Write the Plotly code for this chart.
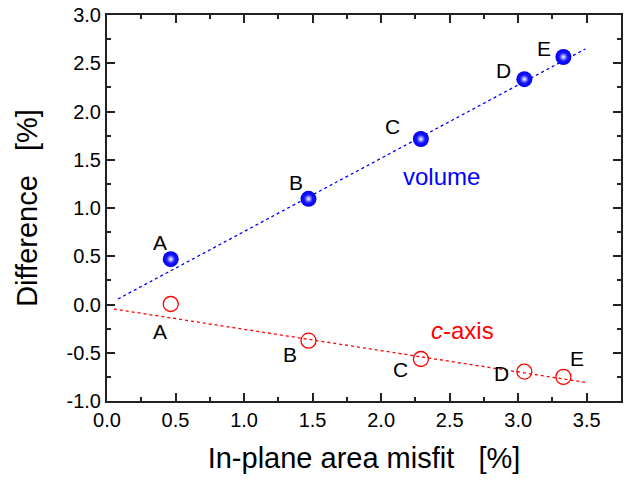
import plotly.graph_objects as go

# Data
labels = ["A", "B", "C", "D", "E"]
misfit = [0.465, 1.47, 2.29, 3.045, 3.33]
volume = [0.47, 1.095, 1.715, 2.335, 2.565]
c_axis = [0.005, -0.375, -0.565, -0.695, -0.75]

# Linear-fit guide lines (end points)
vol_fit_x = [0.08, 3.49]
vol_fit_y = [0.057, 2.648]
c_fit_x = [0.05, 3.49]
c_fit_y = [-0.047, -0.807]

# Label positions (data coordinates)
vol_lab_x = [0.385, 1.378, 2.086, 2.892, 3.19]
vol_lab_y = [0.64, 1.265, 1.846, 2.426, 2.648]
c_lab_x = [0.385, 1.336, 2.141, 2.88, 3.43]
c_lab_y = [-0.28, -0.52, -0.676, -0.717, -0.56]

# Tick labels
x_tick_vals = [0.0, 0.5, 1.0, 1.5, 2.0, 2.5, 3.0, 3.5]
x_tick_text = ["0.0", "0.5", "1.0", "1.5", "2.0", "2.5", "3.0", "3.5"]
y_tick_vals = [-1.0, -0.5, 0.0, 0.5, 1.0, 1.5, 2.0, 2.5, 3.0]
y_tick_text = ["-1.0", "-0.5", "0.0", "0.5", "1.0", "1.5", "2.0", "2.5", "3.0"]

FONT = "Liberation Sans, Arial, sans-serif"

fig = go.Figure()

fig.add_trace(go.Scatter(x=vol_fit_x, y=vol_fit_y, mode="lines",
                         line=dict(color="#0000ff", width=1.3, dash="dot"),
                         showlegend=False, hoverinfo="skip"))
fig.add_trace(go.Scatter(x=c_fit_x, y=c_fit_y, mode="lines",
                         line=dict(color="#ff0000", width=1.3, dash="dot"),
                         showlegend=False, hoverinfo="skip"))

# volume: shaded blue spheres
fig.add_trace(go.Scatter(x=misfit, y=volume, mode="markers",
                         marker=dict(size=16, color="#0000f0", line=dict(width=0),
                                     gradient=dict(type="radial", color="#3030ff")),
                         showlegend=False))
fig.add_trace(go.Scatter(x=misfit, y=volume, mode="markers",
                         marker=dict(size=8, color="rgba(40,40,255,0.9)", line=dict(width=0),
                                     gradient=dict(type="radial", color="#ffffff")),
                         showlegend=False, hoverinfo="skip"))

# c-axis: open red circles
fig.add_trace(go.Scatter(x=misfit, y=c_axis, mode="markers",
                         marker=dict(size=15, color="#ff0000", symbol="circle-open",
                                     line=dict(width=1.3, color="#ff0000")),
                         showlegend=False))

annotations = []
for t, x, y in zip(labels, vol_lab_x, vol_lab_y):
    annotations.append(dict(x=x, y=y, text=t, showarrow=False,
                            font=dict(family=FONT, size=21, color="black")))
for t, x, y in zip(labels, c_lab_x, c_lab_y):
    annotations.append(dict(x=x, y=y, text=t, showarrow=False,
                            font=dict(family=FONT, size=21, color="black")))
annotations.append(dict(x=2.44, y=1.327, text="volume", showarrow=False,
                        font=dict(family=FONT, size=24, color="#0000ff")))
annotations.append(dict(x=2.59, y=-0.27, text="<i>c</i>-axis", showarrow=False,
                        font=dict(family=FONT, size=24, color="#ff0000")))

axis_common = dict(
    showline=True, linecolor="#222222", linewidth=2, mirror="ticks",
    ticks="inside", ticklen=8, tickwidth=1.5, tickcolor="#222222",
    showgrid=False, zeroline=False,
    tickfont=dict(family=FONT, size=20, color="black"),
)

fig.update_layout(
    width=624, height=480,
    margin=dict(l=107, r=1, t=15, b=79),
    paper_bgcolor="white", plot_bgcolor="white",
    annotations=annotations,
    xaxis=dict(range=[0, 3.75], tickmode="array", tickvals=x_tick_vals, ticktext=x_tick_text,
               minor=dict(ticks="inside", ticklen=4, tickwidth=1.5, dtick=0.25, tick0=0,
                          tickcolor="#222222"),
               title=dict(text="In-plane area misfit   [%]", standoff=18,
                          font=dict(family=FONT, size=29, color="black")),
               **axis_common),
    yaxis=dict(range=[-1.0, 3.0], tickmode="array", tickvals=y_tick_vals, ticktext=y_tick_text,
               minor=dict(ticks="inside", ticklen=4, tickwidth=1.5, dtick=0.25, tick0=0,
                          tickcolor="#222222"),
               title=dict(text="\u00a0\u00a0\u00a0Difference\u00a0\u00a0\u00a0[%]", standoff=20,
                          font=dict(family=FONT, size=29, color="black")),
               **axis_common),
)

fig.write_html("out.html")
